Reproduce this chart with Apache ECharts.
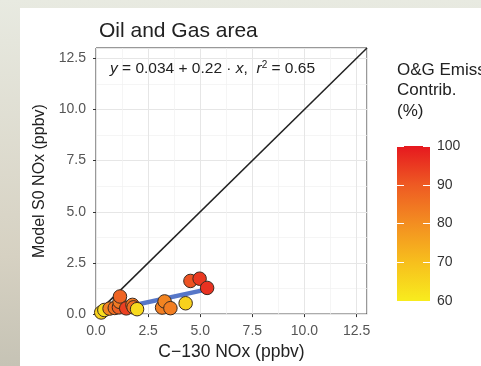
<!DOCTYPE html>
<html>
<head>
<meta charset="utf-8">
<title>Oil and Gas area</title>
<script src="https://cdn.jsdelivr.net/npm/echarts@6/dist/echarts.min.js"></script>
<style>
  html, body { margin: 0; padding: 0; }
  #main { width: 481px; height: 366px; }
</style>
</head>
<body>
<div id="main"></div>
<script>
// 观测值 (C-130) 和模型值 (S0)，以及油气排放贡献百分比
const obsNox = [0.25, 0.40, 0.65, 0.90, 1.10, 1.13, 1.15, 1.45, 1.75, 1.80, 1.97, 3.17, 3.29, 3.57, 4.30, 4.53, 4.97, 5.33]
const modelNox = [0.08, 0.20, 0.27, 0.30, 0.33, 0.60, 0.86, 0.28, 0.45, 0.33, 0.24, 0.32, 0.62, 0.29, 0.53, 1.62, 1.73, 1.28]
const ogContrib = [66, 63, 82, 86, 89, 84, 88, 94, 84, 86, 64, 83, 82, 83, 66, 91, 95, 96]

// 拟合线两端 (y = 0.034 + 0.22x)，1:1 参考线两端
const fitX = [0.25, 5.33]
const fitY = [0.09, 1.21]
const oneToOne = [0, 13]

// 刻度
const axisTicks = [0, 2.5, 5, 7.5, 10, 12.5]
const barTicks = [60, 70, 80, 90, 100]

const chart = echarts.init(document.getElementById('main'), null, { renderer: 'canvas' })

const points = obsNox.map((x, i) => [x, modelNox[i], ogContrib[i]])
const colorStops = ['#f8ec1e', '#f7bf1d', '#f38e21', '#ee5a23', '#e6181f']
const FONT = 'Liberation Sans, Arial, sans-serif'

const axisCommon = {
  type: 'value',
  min: 0,
  max: 13,
  interval: axisTicks[1] - axisTicks[0],
  axisLine: { show: false },
  axisTick: { show: true, length: 3, lineStyle: { color: '#333', width: 1 } },
  axisLabel: {
    color: '#555',
    fontSize: 14,
    margin: 10,
    fontFamily: FONT,
    showMaxLabel: false,
    formatter: (v) => v.toFixed(1)
  },
  splitLine: { show: true, lineStyle: { color: '#e6e6e6', width: 1 } },
  minorTick: { show: false, splitNumber: 2 },
  minorSplitLine: { show: true, lineStyle: { color: '#f0f0f0', width: 0.7 } }
}

const option = {
  animation: false,
  backgroundColor: 'transparent',
  // 背景：左侧和顶部是幻灯片的底色
  graphic: [
    {
      type: 'rect', z: -10, silent: true,
      shape: { x: 0, y: 0, width: 481, height: 366 },
      style: {
        fill: new echarts.graphic.LinearGradient(0, 0, 0, 1, [
          { offset: 0, color: '#e8eae1' },
          { offset: 0.7, color: '#d6d1c2' },
          { offset: 1, color: '#c6c3b5' }
        ])
      }
    },
    {
      type: 'rect', z: -9, silent: true,
      shape: { x: 20, y: 8, width: 461, height: 358 },
      style: { fill: '#ffffff' }
    },
    {
      type: 'text', left: 110, top: 60, z: 10,
      style: {
        text: '{i|y} = 0.034 + 0.22 · {i|x},  {i|r}{s|2} = 0.65',
        fontSize: 15.5,
        fill: '#222',
        fontFamily: FONT,
        rich: {
          i: { fontStyle: 'italic', fontSize: 15.5, fill: '#222' },
          s: { fontSize: 10, verticalAlign: 'top', padding: [0, 0, 8, 0], fill: '#222' }
        }
      }
    },
    {
      type: 'text', left: 397, top: 60, z: 10,
      style: {
        text: 'O&G Emiss.\nContrib.\n(%)',
        fontSize: 17,
        lineHeight: 20.5,
        fill: '#222',
        fontFamily: FONT
      }
    }
  ],
  title: {
    text: 'Oil and Gas area',
    left: 94,
    top: 16,
    textStyle: { color: '#222', fontSize: 21, fontWeight: 'normal', fontFamily: FONT }
  },
  grid: [
    { left: 96, top: 48, width: 271, height: 271, show: true, borderColor: '#333', borderWidth: 1, backgroundColor: '#fff' },
    // 色标
    { left: 397, top: 146, width: 33, height: 155 }
  ],
  xAxis: [
    Object.assign({}, axisCommon, {
      gridIndex: 0,
      name: 'C\u2212130 NOx (ppbv)',
      nameLocation: 'middle',
      nameGap: 27,
      nameTextStyle: { color: '#222', fontSize: 17.5, fontFamily: FONT }
    }),
    {
      type: 'category', gridIndex: 1, data: ['c'],
      axisLine: { show: false }, axisTick: { show: false }, axisLabel: { show: false }
    }
  ],
  yAxis: [
    Object.assign({}, axisCommon, {
      gridIndex: 0,
      name: 'Model S0 NOx (ppbv)',
      nameLocation: 'middle',
      nameGap: 48,
      nameTextStyle: { color: '#222', fontSize: 16, fontFamily: FONT }
    }),
    {
      type: 'value', gridIndex: 1, min: barTicks[0], max: barTicks[barTicks.length - 1], interval: 10,
      position: 'right', z: 5,
      axisLine: { show: false },
      axisTick: { show: true, inside: true, length: 7, lineStyle: { color: '#fff', width: 1 } },
      axisLabel: { color: '#333', fontSize: 14, margin: 7, fontFamily: FONT },
      splitLine: { show: false }
    },
    {
      type: 'value', gridIndex: 1, min: barTicks[0], max: barTicks[barTicks.length - 1], interval: 10,
      position: 'left', z: 5,
      axisLine: { show: false },
      axisTick: { show: true, inside: true, length: 7, lineStyle: { color: '#fff', width: 1 } },
      axisLabel: { show: false },
      splitLine: { show: false }
    }
  ],
  visualMap: {
    show: false,
    type: 'continuous',
    min: 60,
    max: 100,
    dimension: 2,
    seriesIndex: 2,
    inRange: { color: colorStops }
  },
  series: [
    {
      // 1:1 线
      type: 'line',
      xAxisIndex: 0, yAxisIndex: 0,
      data: [[oneToOne[0], oneToOne[0]], [oneToOne[1], oneToOne[1]]],
      symbol: 'none',
      lineStyle: { color: '#222', width: 1.5 },
      z: 2
    },
    {
      // 线性拟合
      type: 'line',
      xAxisIndex: 0, yAxisIndex: 0,
      data: fitX.map((x, i) => [x, fitY[i]]),
      symbol: 'none',
      lineStyle: { color: '#4568c2', width: 4.5, opacity: 0.9 },
      z: 3
    },
    {
      type: 'scatter',
      xAxisIndex: 0, yAxisIndex: 0,
      data: points,
      symbolSize: 13.5,
      itemStyle: { borderColor: '#3a2a20', borderWidth: 1, opacity: 1 },
      z: 4
    },
    {
      // 色标柱
      type: 'bar',
      xAxisIndex: 1, yAxisIndex: 1,
      data: [barTicks[barTicks.length - 1]],
      barWidth: 33,
      itemStyle: {
        color: new echarts.graphic.LinearGradient(0, 1, 0, 0, colorStops.map((c, i) => ({
          offset: i / (colorStops.length - 1), color: c
        })))
      },
      z: 2
    }
  ]
}

chart.setOption(option)
</script>
</body>
</html>
